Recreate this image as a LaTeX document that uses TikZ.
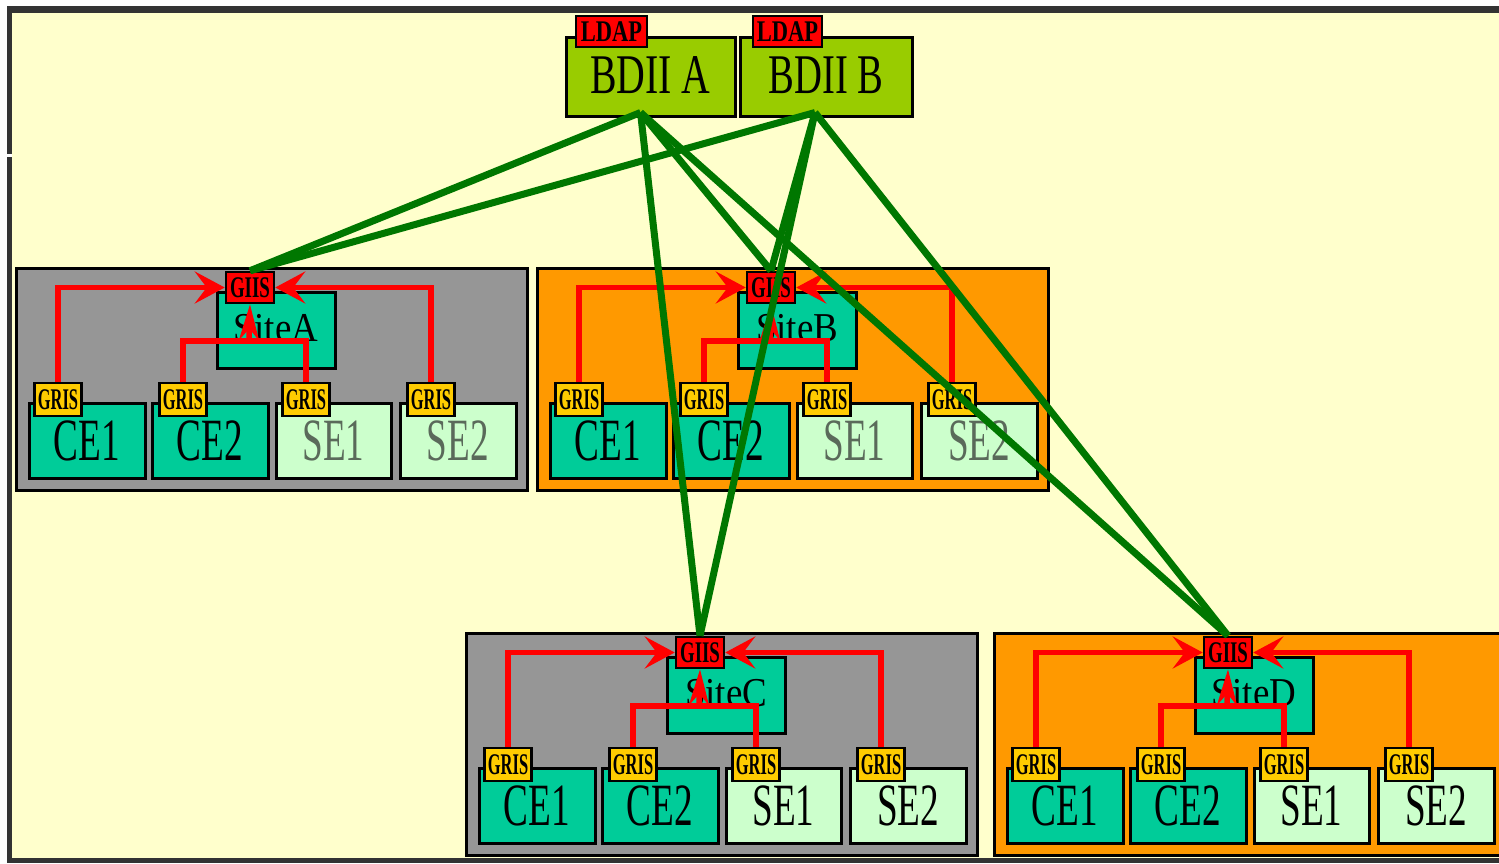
\documentclass[tikz,border=0pt]{standalone}
\usepackage{fontspec}
\setmainfont{Liberation Serif}
\usetikzlibrary{arrows.meta}
\definecolor{bg}{HTML}{FFFFCC}
\definecolor{frame}{HTML}{333333}
\definecolor{bdii}{HTML}{99CC00}
\definecolor{tag}{HTML}{FF0000}
\definecolor{gris}{HTML}{FFCC00}
\definecolor{sitegray}{HTML}{969696}
\definecolor{siteorange}{HTML}{FF9900}
\definecolor{teal}{HTML}{00CC99}
\definecolor{sebox}{HTML}{CCFFCC}
\definecolor{gline}{HTML}{007700}
\definecolor{rline}{HTML}{FF0000}
\definecolor{segray}{HTML}{5A6A5A}
\newcommand\sx[2]{\scalebox{#1}[1]{#2}}
\tikzset{
  box/.style={draw=black, line width=3pt, inner sep=0pt},
  tagbox/.style={box, fill=tag, line width=2.5pt, font=\fontsize{30}{30}\selectfont\bfseries},
  grisbox/.style={box, fill=gris, line width=2.5pt, minimum width=47pt, minimum height=33pt, font=\fontsize{30}{30}\selectfont\bfseries},
  elem/.style={box, minimum width=116pt, minimum height=75pt, font=\fontsize{60}{60}\selectfont},
  sitenode/.style={box, fill=teal, minimum width=118pt, minimum height=76pt, font=\fontsize{41}{41}\selectfont},
  redline/.style={draw=rline, line width=5.5pt},
  sidearrow/.style={redline, -{Stealth[length=30pt,width=32pt,inset=12pt]}},
  uparrow/.style={redline, -{Stealth[length=36pt,width=20pt]}},
  greenline/.style={draw=gline, line width=7pt},
}
% #1 name, #2 dx, #3 dy, #4 fill, #5 SE text colour, #6 letter
\newcommand\mksite[6]{%
\begin{scope}[shift={(#2,#3)}]
  \node[box, fill=#4, minimum width=511pt, minimum height=222pt] (#1) at (271.5,379) {};
  \node[sitenode] (#1-site) at (276,330) {\raisebox{4pt}{\sx{0.9}{Site#6}}};
  \node[tagbox, minimum width=48pt, minimum height=31pt] (#1-giis) at (250,287.5) {\sx{0.63}{GIIS}};
  \node[elem, fill=teal] (#1-ce1) at (87,440.5) {\sx{0.62}{CE1}};
  \node[elem, fill=teal] (#1-ce2) at (210,440.5) {\sx{0.62}{CE2}};
  \node[elem, fill=sebox, minimum width=115pt, text=#5] (#1-se1) at (333.5,440.5) {\sx{0.62}{SE1}};
  \node[elem, fill=sebox, text=#5] (#1-se2) at (458,440.5) {\sx{0.62}{SE2}};
  \coordinate (#1-j) at (249,341);
  \draw[sidearrow] (58,399.5) |- (#1-giis.west);
  \draw[sidearrow] (431,399.5) |- (#1-giis.east);
  \draw[redline] (183,399.5) |- (#1-j) -| (306,399.5);
  \draw[uparrow] (#1-j) -- (#1-giis.south);
  \node[grisbox] (#1-g1) at (58,399.5) {\sx{0.55}{GRIS}};
  \node[grisbox] (#1-g2) at (183,399.5) {\sx{0.55}{GRIS}};
  \node[grisbox] (#1-g3) at (306,399.5) {\sx{0.55}{GRIS}};
  \node[grisbox] (#1-g4) at (431,399.5) {\sx{0.55}{GRIS}};
\end{scope}}
\begin{document}
\begin{tikzpicture}[x=1pt,y=-1pt]
\useasboundingbox (0,0) rectangle (1499,863);
\clip (0,0) rectangle (1499,863);
\fill[white] (0,0) rectangle (1499,863);
\fill[bg] (7,6) rectangle (1499,863);
\fill[frame] (7,6) rectangle (1499,13);
\fill[frame] (7,6) rectangle (12,863);
\fill[frame] (7,858) rectangle (1499,863);
\fill[white] (7,154) rectangle (12,157);

\mksite{A}{0}{0}{sitegray}{segray}{A}
\mksite{B}{521}{0}{siteorange}{segray}{B}
\mksite{C}{450}{365}{sitegray}{black}{C}
\mksite{D}{978}{365}{siteorange}{black}{D}

\node[box, fill=bdii, minimum width=169pt, minimum height=79pt, font=\fontsize{56}{56}\selectfont] (bdiiA) at (650.5,76.5) {\raisebox{3pt}{\sx{0.71}{BDII A}}};
\node[box, fill=bdii, minimum width=172pt, minimum height=79pt, font=\fontsize{56}{56}\selectfont] (bdiiB) at (826,76.5) {\raisebox{3pt}{\sx{0.69}{BDII B}}};
\node[tagbox, minimum width=71pt, minimum height=31pt] (ldapA) at (611.5,31.5) {\sx{0.75}{LDAP}};
\node[tagbox, minimum width=69pt, minimum height=31pt] (ldapB) at (787.5,31.5) {\sx{0.75}{LDAP}};

\foreach \s in {A,B,C,D}{
  \draw[greenline] ([xshift=-10pt,yshift=5pt]bdiiA.south) -- (\s-giis.north);
  \draw[greenline] ([xshift=-11pt,yshift=5pt]bdiiB.south) -- (\s-giis.north);
}
\end{tikzpicture}
\end{document}
